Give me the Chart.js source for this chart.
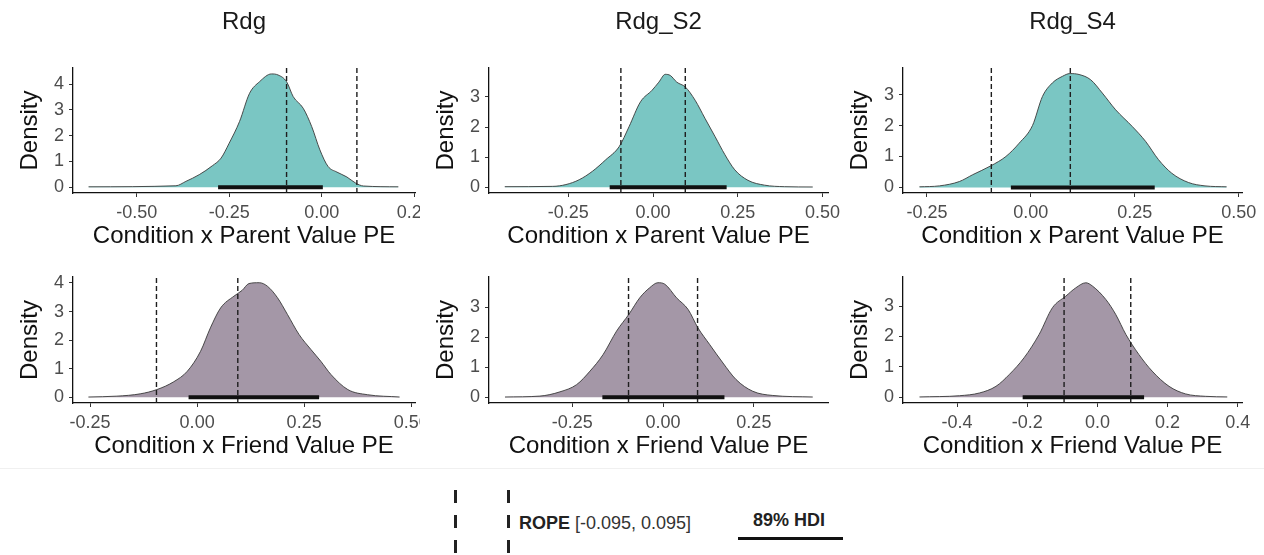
<!DOCTYPE html>
<html><head><meta charset="utf-8">
<script src="https://cdn.jsdelivr.net/npm/chart.js@4.4.1/dist/chart.umd.min.js"></script>
<style>
html,body{margin:0;padding:0;background:#fff;width:1264px;height:555px;overflow:hidden;font-family:"Liberation Sans",Arial,sans-serif;}
canvas{position:absolute;}
.dash{position:absolute;top:490px;width:3px;height:64px;background:repeating-linear-gradient(to bottom,#222 0 13px,transparent 13px 25px);}
.txt{position:absolute;font-size:18px;line-height:22px;white-space:nowrap;}
</style></head><body>
<canvas id="c1" width="420" height="262" style="left:0;top:0"></canvas>
<canvas id="c2" width="430" height="262" style="left:416px;top:0"></canvas>
<canvas id="c3" width="434" height="262" style="left:830px;top:0"></canvas>
<canvas id="c4" width="420" height="210" style="left:0;top:262px"></canvas>
<canvas id="c5" width="430" height="210" style="left:416px;top:262px"></canvas>
<canvas id="c6" width="434" height="210" style="left:830px;top:262px"></canvas>
<div style="position:absolute;left:0;top:468px;width:1264px;height:1px;background:#f0f0f0"></div>
<div class="dash" style="left:454px"></div>
<div class="dash" style="left:507px"></div>
<div class="txt" style="left:519px;top:512px;color:#333"><b style="color:#222">ROPE</b> [-0.095, 0.095]</div>
<div class="txt" style="left:753px;top:509px;color:#222;font-weight:bold">89% HDI</div>
<div style="position:absolute;left:738px;top:537px;width:105px;height:3px;background:#111"></div>
<script>
const panelTitles = ["Rdg", "Rdg_S2", "Rdg_S4"];
const xTitles = ["Condition x Parent Value PE", "Condition x Friend Value PE"];
const yTitle = "Density";
const rope = [-0.095, 0.095];

// Rdg – Parent
const rdgParentX = [-0.63,-0.394,-0.367,-0.331,-0.295,-0.272,-0.25,-0.222,-0.195,-0.168,-0.136,-0.118,-0.095,-0.077,-0.05,-0.027,-0.005,0.017,0.041,0.068,0.091,0.113,0.207];
const rdgParentY = [0.02,0.06,0.23,0.49,0.84,1.13,1.71,2.55,3.64,4.09,4.39,4.35,4.09,3.51,3.06,2.35,1.45,0.81,0.59,0.40,0.17,0.05,0.02];
const rdgParentHdi = [-0.28, 0.003];
const rdgParentXRange = [-0.672, 0.252];
const rdgParentYRange = [-0.22, 4.62];

// Rdg_S2 – Parent
const s2ParentX = [-0.4375,-0.296,-0.257,-0.218,-0.179,-0.14,-0.1,-0.071,-0.037,-0.003,0.017,0.036,0.051,0.07,0.095,0.124,0.153,0.183,0.212,0.241,0.28,0.329,0.388,0.471];
const s2ParentY = [0.02,0.03,0.09,0.25,0.53,0.91,1.35,2.01,2.84,3.22,3.49,3.75,3.71,3.49,3.33,2.89,2.29,1.68,1.08,0.58,0.23,0.07,0.02,0.01];
const s2ParentHdi = [-0.128, 0.217];
const s2ParentXRange = [-0.484, 0.516];
const s2ParentYRange = [-0.19, 3.96];

// Rdg_S4 – Parent
const s4ParentX = [-0.268,-0.22,-0.172,-0.14,-0.096,-0.06,-0.028,0.004,0.028,0.052,0.076,0.094,0.116,0.144,0.172,0.204,0.244,0.276,0.307,0.339,0.379,0.419,0.471];
const s4ParentY = [0.02,0.05,0.19,0.41,0.70,1.0,1.43,2.0,2.94,3.38,3.59,3.68,3.65,3.48,3.05,2.51,1.97,1.49,0.90,0.46,0.16,0.05,0.02];
const s4ParentHdi = [-0.048, 0.298];
const s4ParentXRange = [-0.3075, 0.508];
const s4ParentYRange = [-0.18, 3.86];

// Rdg – Friend
const rdgFriendX = [-0.254,-0.1875,-0.133,-0.094,-0.055,-0.023,0.008,0.031,0.055,0.086,0.105,0.121,0.145,0.164,0.1875,0.211,0.238,0.266,0.289,0.3125,0.352,0.398,0.473];
const rdgFriendY = [0.01,0.04,0.12,0.27,0.54,0.91,1.61,2.43,3.13,3.54,3.74,3.98,4.01,3.89,3.49,2.90,2.20,1.67,1.26,0.80,0.27,0.09,0.01];
const rdgFriendHdi = [-0.02, 0.285];
const rdgFriendXRange = [-0.29, 0.509];
const rdgFriendYRange = [-0.2, 4.21];

// Rdg_S2 – Friend
const s2FriendX = [-0.435,-0.339,-0.284,-0.238,-0.201,-0.165,-0.128,-0.094,-0.064,-0.037,-0.014,0.005,0.037,0.069,0.096,0.128,0.165,0.201,0.247,0.302,0.412];
const s2FriendY = [0.01,0.04,0.18,0.42,0.87,1.42,2.2,2.76,3.31,3.64,3.81,3.76,3.31,2.92,2.31,1.76,1.14,0.59,0.2,0.06,0.01];
const s2FriendHdi = [-0.167, 0.169];
const s2FriendXRange = [-0.479, 0.454];
const s2FriendYRange = [-0.19, 4.0];

// Rdg_S4 – Friend
const s4FriendX = [-0.507,-0.393,-0.336,-0.289,-0.251,-0.209,-0.166,-0.128,-0.09,-0.062,-0.033,-0.014,0.024,0.052,0.081,0.118,0.156,0.204,0.251,0.308,0.37];
const s4FriendY = [0.01,0.05,0.14,0.36,0.75,1.3,2.07,2.95,3.33,3.6,3.77,3.66,3.22,2.73,2.07,1.41,0.86,0.36,0.11,0.03,0.01];
const s4FriendHdi = [-0.213, 0.133];
const s4FriendXRange = [-0.554, 0.412];
const s4FriendYRange = [-0.19, 3.96];

// Tick values and labels
const xTicksA = [-0.5, -0.25, 0, 0.25];
const xLabelsA = ["-0.50", "-0.25", "0.00", "0.25"];
const xTicksB = [-0.25, 0, 0.25, 0.5];
const xLabelsB = ["-0.25", "0.00", "0.25", "0.50"];
const xTicksC = [-0.25, 0, 0.25];
const xLabelsC = ["-0.25", "0.00", "0.25"];
const xTicksD = [-0.4, -0.2, 0, 0.2, 0.4];
const xLabelsD = ["-0.4", "-0.2", "0.0", "0.2", "0.4"];
const yTicks4 = [0, 1, 2, 3, 4];
const yTicks3 = [0, 1, 2, 3];

const TEAL = "#7ac6c3";
const PURPLE = "#a497a7";
const FONT = "'Liberation Sans', Arial, Helvetica, sans-serif";

const panels = [
  {id:"c1", row:0, col:0, x:rdgParentX, y:rdgParentY, hdi:rdgParentHdi, xr:rdgParentXRange, yr:rdgParentYRange, xt:xTicksA, xl:xLabelsA, yt:yTicks4, fill:TEAL},
  {id:"c2", row:0, col:1, x:s2ParentX, y:s2ParentY, hdi:s2ParentHdi, xr:s2ParentXRange, yr:s2ParentYRange, xt:xTicksB, xl:xLabelsB, yt:yTicks3, fill:TEAL},
  {id:"c3", row:0, col:2, x:s4ParentX, y:s4ParentY, hdi:s4ParentHdi, xr:s4ParentXRange, yr:s4ParentYRange, xt:xTicksB, xl:xLabelsB, yt:yTicks3, fill:TEAL},
  {id:"c4", row:1, col:0, x:rdgFriendX, y:rdgFriendY, hdi:rdgFriendHdi, xr:rdgFriendXRange, yr:rdgFriendYRange, xt:xTicksB, xl:xLabelsB, yt:yTicks4, fill:PURPLE},
  {id:"c5", row:1, col:1, x:s2FriendX, y:s2FriendY, hdi:s2FriendHdi, xr:s2FriendXRange, yr:s2FriendYRange, xt:xTicksC, xl:xLabelsC, yt:yTicks3, fill:PURPLE},
  {id:"c6", row:1, col:2, x:s4FriendX, y:s4FriendY, hdi:s4FriendHdi, xr:s4FriendXRange, yr:s4FriendYRange, xt:xTicksD, xl:xLabelsD, yt:yTicks3, fill:PURPLE}
];
const rightPad = [5, 18, 22];

panels.forEach(p => {
  const density = p.x.map((v, i) => ({x: v, y: p.y[i]}));
  const ropeLines = rope.map(r => ({
    type: "line",
    data: [{x: r, y: p.yr[0]}, {x: r, y: p.yr[1]}],
    borderColor: "#1e1e1e", borderWidth: 1.4, borderDash: [5, 3],
    pointRadius: 0, fill: false, order: 2
  }));
  new Chart(document.getElementById(p.id), {
    type: "line",
    data: {
      datasets: [
        {data: p.hdi.map(h => ({x: h, y: 0})), borderColor: "#111", borderWidth: 4, borderCapStyle: "butt", pointRadius: 0, fill: false, order: 1},
        ...ropeLines,
        {data: density, borderColor: "#3a3a3a", borderWidth: 0.9, backgroundColor: p.fill, fill: "origin", cubicInterpolationMode: "monotone", pointRadius: 0, order: 3}
      ]
    },
    options: {
      responsive: false, animation: false, events: [],
      layout: {padding: {left: 0, right: rightPad[p.col], top: p.row === 0 ? 0 : 15, bottom: 0}},
      plugins: {
        legend: {display: false}, tooltip: {enabled: false},
        title: p.row === 0 ? {display: true, text: panelTitles[p.col], fullSize: false, color: "#1a1a1a",
          font: {family: FONT, size: 24, weight: "normal"}, padding: {top: 7.6, bottom: 31.6}} : {display: false}
      },
      scales: {
        x: {
          type: "linear", min: p.xr[0], max: p.xr[1],
          afterBuildTicks: s => { s.ticks = p.xt.map(v => ({value: v})); },
          afterFit: s => { s.height = 69; s.paddingLeft = 0; s.paddingRight = 0; },
          ticks: {autoSkip: false, maxRotation: 0, padding: 5, color: "#4d4d4d", font: {family: FONT, size: 18},
            callback: (v, i) => p.xl[i]},
          grid: {drawOnChartArea: false, drawTicks: true, tickLength: 4, color: "#333", tickColor: "#333", tickWidth: 1},
          border: {display: true, color: "#111", width: 1.3},
          title: {display: true, text: xTitles[p.row], color: "#111", font: {family: FONT, size: 24}, padding: {top: 0, bottom: 11}}
        },
        y: {
          type: "linear", min: p.yr[0], max: p.yr[1],
          afterBuildTicks: s => { s.ticks = p.yt.map(v => ({value: v})); },
          afterFit: s => { s.width = 73; s.paddingTop = 0; s.paddingBottom = 0; },
          ticks: {autoSkip: false, padding: 5, color: "#4d4d4d", font: {family: FONT, size: 18},
            callback: v => String(v)},
          grid: {drawOnChartArea: false, drawTicks: true, tickLength: 4, color: "#333", tickColor: "#333", tickWidth: 1},
          border: {display: true, color: "#111", width: 1.3},
          title: {display: true, text: yTitle, color: "#111", font: {family: FONT, size: 24}, padding: {top: 16.4, bottom: 0}}
        }
      }
    }
  });
});
</script>
</body></html>
